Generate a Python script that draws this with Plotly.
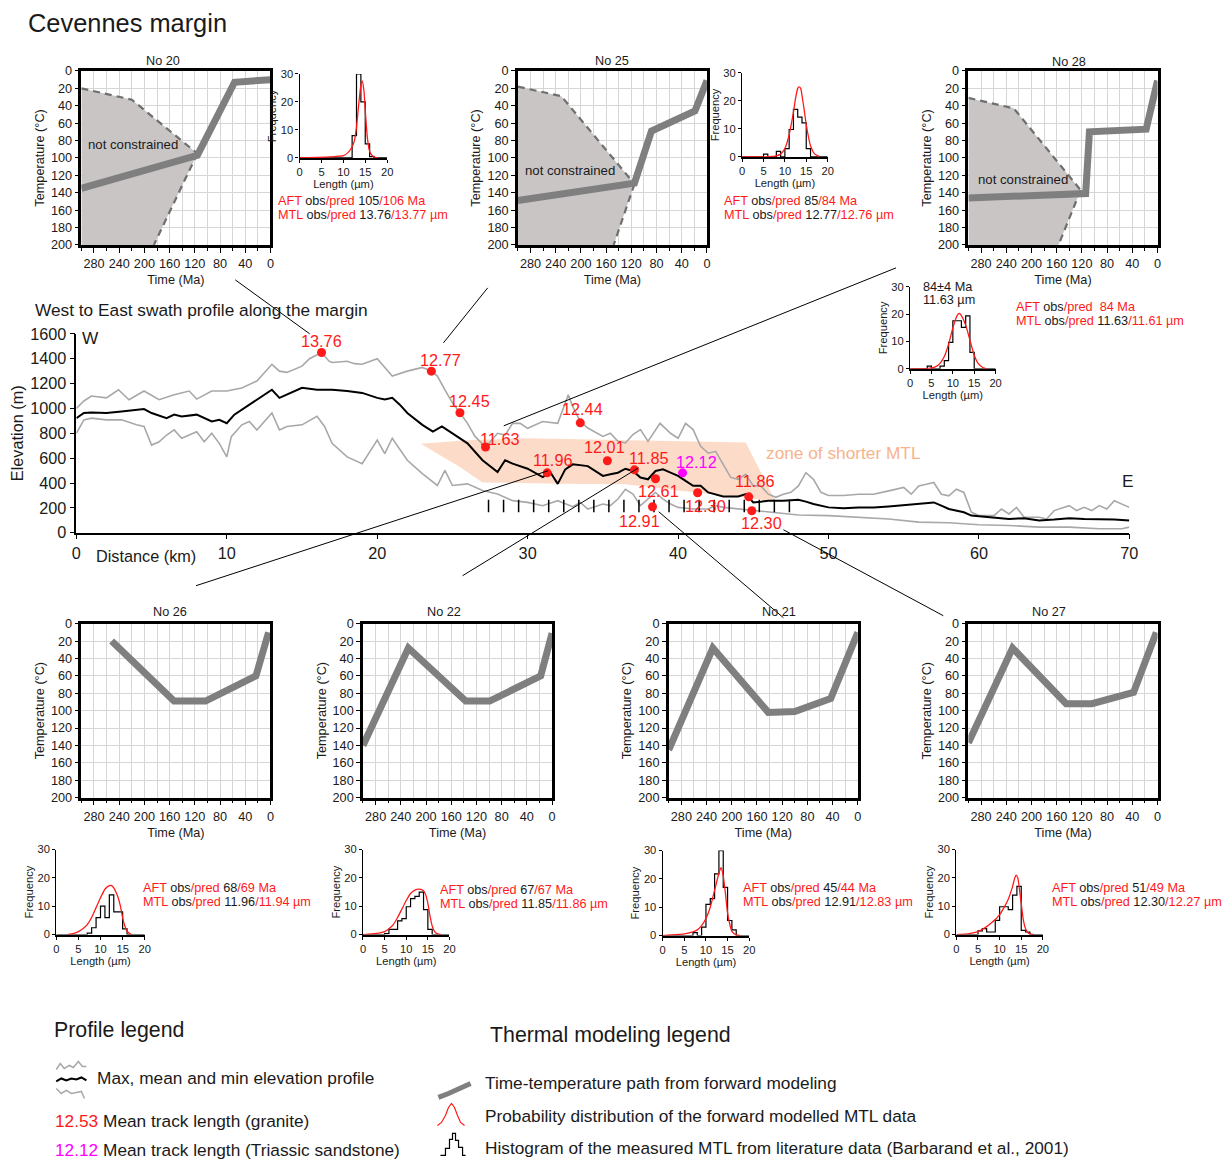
import plotly.graph_objects as go

W, H = 1231, 1161
# measured mapping between figure pixels and photographed pixels
OX, OY, SX, SY = 15.0, 16.0, 0.983, 0.985
FS = 1 / 0.984
RED = "#ff1a1a"
MAG = "#ff00ff"
GRAY = "#a8a8a8"
PATH_GRAY = "#7f7f7f"
FONT = "Liberation Sans, Arial, sans-serif"

# ---------------- data: swath profile ----------------
max_km = [0, 0.5, 1, 2, 2.8, 3.5, 4.5, 5.5, 6.5, 7.5, 8, 9, 10, 11, 12, 13, 13.5, 14, 15, 15.5, 16.3, 16.8, 17, 18,
          18.5, 19, 20, 21, 22, 23, 23.6, 24, 24.5, 25, 25.5, 26, 26.5, 27.2, 27.5, 28, 28.5, 29, 29.5, 30, 31, 32,
          32.7, 33, 33.5, 34, 35, 35.5, 36, 36.5, 37, 37.5, 38, 38.8, 39.5, 40, 40.5, 41, 41.5, 42, 42.5, 43, 43.5,
          44, 44.5, 45, 45.5, 46, 46.5, 47, 47.5, 48, 48.5, 49, 49.5, 50, 51, 52, 53, 54, 55, 55.5, 56, 56.5, 57,
          57.5, 58, 58.5, 59, 59.5, 60, 61, 61.5, 62, 62.5, 63, 64, 64.5, 65, 66, 66.5, 67, 67.5, 68, 68.5, 69,
          69.5, 70]
max_elev = [1000, 1060, 1100, 1085, 1150, 1070, 1140, 1070, 1110, 1140, 1075, 1140, 1140, 1165, 1220, 1355, 1300,
            1290, 1340, 1400, 1450, 1380, 1370, 1380, 1360, 1355, 1400, 1260, 1300, 1330, 1300, 1260, 1150, 1045,
            965, 880, 775, 690, 730, 800, 785, 880, 880, 840, 895, 880, 1110, 1015, 895, 842, 775, 800, 735, 722,
            790, 830, 735, 880, 800, 760, 880, 830, 695, 640, 655, 550, 445, 430, 470, 377, 377, 310, 285, 310,
            325, 377, 483, 430, 325, 300, 300, 310, 310, 337, 364, 310, 377, 390, 404, 310, 297, 350, 324, 165,
            138, 138, 191, 151, 204, 125, 125, 111, 178, 218, 178, 204, 178, 218, 191, 258, 231, 204]

mean_km = [0, 0.5, 1, 2, 3, 4, 4.5, 5, 6, 6.5, 7, 8, 9, 9.5, 10, 10.5, 11, 12, 13, 13.5, 14, 15, 16, 17, 18, 19,
           20, 20.5, 21, 21.5, 22, 23, 23.7, 24.3, 25, 26, 27, 28, 28.5, 29, 30, 31, 31.5, 32, 32.5, 33, 34, 35,
           35.5, 36, 36.5, 37, 37.5, 38, 38.5, 39, 39.5, 40, 40.5, 41, 41.5, 42, 43, 44, 44.5, 45, 45.5, 46, 47,
           48, 48.5, 49, 50, 51, 52, 53, 54, 55, 56, 57, 57.5, 58, 59, 59.5, 60, 61, 62, 63, 64, 65, 66, 67, 68,
           69, 70]
mean_elev = [922, 963, 968, 963, 976, 985, 995, 963, 922, 950, 936, 950, 895, 908, 881, 950, 990, 1070, 1150, 1085,
             1112, 1166, 1150, 1150, 1140, 1125, 1085, 1071, 1085, 1030, 963, 868, 814, 855, 800, 719, 583, 488,
             583, 556, 515, 448, 488, 393, 510, 550, 536, 457, 470, 483, 515, 497, 444, 430, 497, 510, 483, 457,
             417, 377, 377, 324, 292, 292, 311, 244, 250, 258, 258, 266, 250, 231, 204, 197, 204, 204, 212, 223,
             239, 244, 218, 191, 165, 138, 133, 125, 111, 117, 98, 106, 117, 111, 111, 106, 98]

min_km = [0, 0.5, 1, 2, 3, 4, 4.5, 5, 5.5, 6, 6.5, 7, 7.5, 8, 8.5, 9, 9.5, 10, 10.3, 11, 11.5, 12, 12.5, 13, 13.5,
          14, 15, 16, 16.5, 17, 18, 19, 19.5, 20, 20.5, 21, 22, 23, 24, 24.5, 25, 26, 27, 28, 29, 30, 31, 32, 33,
          33.5, 34, 35, 35.5, 36, 36.5, 37, 37.5, 38, 38.5, 39, 39.5, 40, 41, 42, 42.5, 43, 44, 45, 46, 47, 48,
          50, 52, 54, 56, 58, 60, 62, 64, 66, 68, 69.5, 70]
min_elev = [800, 908, 922, 908, 908, 868, 855, 705, 732, 786, 827, 760, 786, 813, 732, 800, 719, 610, 773, 868,
            895, 827, 895, 963, 827, 855, 868, 936, 855, 719, 610, 556, 651, 746, 637, 760, 583, 475, 380, 502,
            380, 393, 339, 312, 258, 244, 217, 258, 210, 244, 191, 231, 218, 271, 350, 311, 218, 271, 324, 271,
            231, 204, 191, 191, 218, 204, 191, 178, 165, 151, 143, 138, 125, 111, 85, 80, 64, 58, 45, 45, 32, 32,
            45]

zone_km = [22.9, 26, 30, 36, 44.5, 46.5, 44, 40, 36.5, 32, 27, 25.6]
zone_elev = [715, 745, 760, 745, 725, 250, 290, 340, 390, 395, 405, 520]

dot_labels = ["13.76", "12.77", "12.45", "11.63", "11.96", "12.44", "12.01", "11.85", "12.12", "12.61", "12.30",
              "11.86", "12.91", "12.30"]
dot_km = [16.3, 23.6, 25.5, 27.2, 31.3, 33.5, 35.3, 37.1, 40.3, 38.5, 41.3, 44.7, 38.3, 44.9]
dot_elev = [1450, 1300, 965, 690, 482, 884, 579, 506, 482, 434, 322, 289, 209, 177]
dot_rock = ["granite"] * 8 + ["sandstone"] + ["granite"] * 5
# label offsets in pixels (layout only)
dot_label_shift = [(0, 11), (9, 11), (10, 12), (14, 8), (5, 13), (2, 14), (-3, 14), (14, 12), (14, 11),
                   (3, -12), (8, -13), (6, 16), (-13, -14), (10, -12)]

site_marks_km = [27.4, 28.4, 29.4, 30.4, 31.4, 32.4, 33.4, 34.4, 35.4, 36.4, 37.4, 38.4, 39.4, 40.4, 41.4, 42.4,
                 43.4, 44.4, 45.4, 46.4, 47.4]

# ---------------- data: thermal models ----------------
samples = ["No 20", "No 25", "No 28", "No 26", "No 22", "No 21", "No 27"]
tt_time = {
    "No 20": [300, 116, 57, 0],
    "No 25": [300, 115, 88, 19, 0],
    "No 28": [300, 114, 108, 18, 0],
    "No 26": [252, 153, 103, 23, 3],
    "No 22": [300, 228, 137, 99, 18, 0],
    "No 21": [300, 230, 142, 100, 43, 0],
    "No 27": [300, 230, 145, 104, 38, 2],
}
tt_temp = {
    "No 20": [135, 97, 13, 10],
    "No 25": [149, 129, 69, 46, 11],
    "No 28": [146, 141, 70, 67, 11],
    "No 26": [20, 89, 89, 60, 10],
    "No 22": [140, 28, 89, 89, 60, 11],
    "No 21": [145, 28, 102, 101, 86, 10],
    "No 27": [137, 28, 92, 92, 79, 10],
}
unc_upper_time = {"No 20": [300, 220, 116], "No 25": [300, 231, 115], "No 28": [300, 228, 122]}
unc_upper_temp = {"No 20": [20, 33, 95], "No 25": [18, 29, 130], "No 28": [31, 43, 137]}
unc_lower_time = {"No 20": [116, 185], "No 25": [115, 148], "No 28": [122, 157]}
unc_lower_temp = {"No 20": [95, 200], "No 25": [130, 200], "No 28": [137, 200]}

length_bins = list(range(0, 21))
hist_counts = {
    "No 20": [0, 0, 0, 0, 0, 0, 0, 0, 0, 0, 0, 0, 8, 30, 20, 5, 0.5, 0, 0, 0],
    "No 25": [0, 0, 0, 0, 0, 1, 0, 0, 2, 0, 3, 9.8, 17, 14.2, 12.2, 3, 0, 0, 0, 0],
    "No 28": [0, 0, 0, 0, 1, 0, 0, 1, 3, 9.7, 17.6, 17.6, 15.2, 19.4, 6, 0, 0, 0, 0, 0],
    "No 26": [0, 0, 0, 0, 0, 0, 0, 0.5, 2.4, 6, 10, 6, 14, 8, 8, 2, 0, 0, 0, 0],
    "No 22": [0, 0, 0, 0, 0, 0.3, 1.8, 1.8, 4.8, 5.6, 9.8, 12.7, 13.5, 15, 8.8, 1.8, 0, 0, 0, 0],
    "No 21": [0, 0, 0, 0, 0, 0, 0, 1, 0, 3, 11, 13, 21.8, 30, 17, 5.3, 2, 0, 0, 0],
    "No 27": [0, 0, 0, 0, 0, 1.3, 2.1, 0.9, 0.9, 5, 9.8, 9.8, 8.8, 13.9, 17, 1.5, 0.9, 0, 0, 0],
}
pdf_len = {
    "No 20": [0, 2, 6, 8, 10, 11, 12, 12.5, 13, 13.5, 14, 14.3, 14.7, 15, 15.5, 16, 16.5, 17, 18],
    "No 25": [0, 4, 6, 8, 9, 10, 11, 12, 12.5, 13, 13.3, 13.7, 14, 14.5, 15, 16, 17, 18],
    "No 28": [0, 4, 5, 6, 7, 8, 9, 10, 11, 11.5, 12, 13, 14, 15, 16, 17, 18],
    "No 26": [2.5, 4, 5, 6, 7, 8, 9, 10, 11, 12, 12.5, 13, 14, 14.5, 15, 15.5, 16, 16.5, 17],
    "No 22": [0, 2, 4, 5, 6, 7, 8, 9, 10, 11, 12, 13, 14, 14.5, 15, 15.5, 16, 16.5, 17, 18],
    "No 21": [0, 3, 5, 7, 8, 9, 10, 11, 12, 13, 13.5, 14, 14.5, 15, 15.5, 16, 17, 18],
    "No 27": [0, 3, 5, 6, 7, 8, 9, 10, 11, 12, 13, 13.5, 13.8, 14.2, 14.5, 15, 15.5, 16, 16.5, 17, 18],
}
pdf_freq = {
    "No 20": [0, 0.1, 0.3, 0.5, 0.8, 1.8, 4, 6, 11, 19, 26, 27.5, 24, 17, 7, 2.4, 1, 0.4, 0],
    "No 25": [0, 0, 0.1, 0.4, 1, 3, 8, 16, 21, 24.5, 25, 24.5, 22, 17, 11.5, 4, 1, 0.2],
    "No 28": [0, 0.1, 0.3, 0.8, 2, 4.5, 9, 15, 19.5, 20.3, 19.5, 16, 10.5, 5, 1.8, 0.5, 0],
    "No 26": [0, 0.4, 1, 2, 3.5, 6, 9.5, 13, 16, 17.3, 17.3, 16.5, 13, 10, 6, 3, 1.2, 0.4, 0],
    "No 22": [0, 0.2, 0.6, 1, 2, 3.5, 6, 9, 12, 14.5, 15.7, 16, 15.5, 14, 11, 6.5, 3, 1.2, 0.4, 0],
    "No 21": [0, 0.3, 0.6, 1.3, 2, 3.5, 6, 10, 16, 22, 24, 21, 15, 8, 4, 1.5, 0.2, 0],
    "No 27": [0, 0.3, 1, 1.8, 2.8, 4, 5.3, 7, 9.5, 12.5, 17, 20, 21, 20, 17, 11, 5, 2, 0.7, 0.2, 0],
}
aft_obs = {"No 20": "105", "No 25": "85", "No 28": "", "No 26": "68", "No 22": "67", "No 21": "45", "No 27": "51"}
aft_pred = {"No 20": "106", "No 25": "84", "No 28": "84", "No 26": "69", "No 22": "67", "No 21": "44", "No 27": "49"}
mtl_obs = {"No 20": "13.76", "No 25": "12.77", "No 28": "11.63", "No 26": "11.96", "No 22": "11.85",
           "No 21": "12.91", "No 27": "12.30"}
mtl_pred = {"No 20": "13.77", "No 25": "12.76", "No 28": "11.61", "No 26": "11.94", "No 22": "11.86",
            "No 21": "12.83", "No 27": "12.27"}

# ---------------- layout geometry (target picture pixels) ----------------
tt_box = {"No 20": (83, 271, 70, 244), "No 25": (517, 705, 70, 244), "No 28": (965, 1153, 70, 244),
          "No 26": (83, 271, 623, 797), "No 22": (363, 551, 623, 797), "No 21": (667, 855, 623, 797),
          "No 27": (965, 1153, 623, 797)}
hist_box = {"No 20": (300, 387, 73, 157), "No 25": (740, 825, 72, 156), "No 28": (907, 992, 286, 368),
            "No 26": (58, 146, 849, 934), "No 22": (363, 449, 849, 934), "No 21": (661, 747, 850, 935),
            "No 27": (953, 1039, 849, 934)}
title_pos = {"No 20": (164, 60), "No 25": (611, 60), "No 28": (1065, 61), "No 26": (171, 611),
             "No 22": (444, 611), "No 21": (777, 611), "No 27": (1045, 611)}
txt_pos = {"No 20": (277, 200), "No 25": (720, 200), "No 28": (1010, 306), "No 26": (142, 887),
           "No 22": (438, 889), "No 21": (739, 887), "No 27": (1046, 887)}
nc_pos = {"No 20": (293, 84), "No 25": (292, 115), "No 28": (288, 125)}


def px(x):
    return (x - OX) / SX / W


def py(y):
    return 1 - (y - OY) / SY / H


def f(size):
    return size * FS


fig = go.Figure()
layout = dict(width=W, height=H, margin=dict(l=0, r=0, t=0, b=0), paper_bgcolor="white",
              plot_bgcolor="rgba(0,0,0,0)", showlegend=False, hovermode=False,
              font=dict(family=FONT, color="#1a1a1a"))
annotations = []
shapes = []


def axnames(n):
    return ("xaxis" if n == 1 else f"xaxis{n}", "yaxis" if n == 1 else f"yaxis{n}",
            "x" if n == 1 else f"x{n}", "y" if n == 1 else f"y{n}")


def ann(x, y, text, size=13, color="#1a1a1a", xanchor="left", yanchor="middle", **kw):
    annotations.append(dict(x=px(x), y=py(y), xref="paper", yref="paper", text=text, showarrow=False,
                            xanchor=xanchor, yanchor=yanchor, font=dict(size=f(size), color=color, family=FONT),
                            **kw))


# ---------------- profile (axis 1) ----------------
xa, ya, xr, yr = axnames(1)
layout[xa] = dict(domain=[px(78), px(1125)], range=[0, 70], anchor=yr, showline=True, linecolor="black",
                  linewidth=1.5, ticks="outside", ticklen=5, tickcolor="black", dtick=10, showgrid=False,
                  zeroline=False, tickfont=dict(size=f(16), color="#1a1a1a"))
layout[ya] = dict(domain=[py(532), py(333)], range=[0, 1600], anchor=xr, showline=True, linecolor="black",
                  linewidth=1.5, ticks="outside", ticklen=5, tickcolor="black", dtick=200, showgrid=False,
                  zeroline=False, tickfont=dict(size=f(16), color="#1a1a1a"),
                  title=dict(text="Elevation (m)", font=dict(size=f(16)), standoff=6))

fig.add_trace(go.Scatter(x=zone_km, y=zone_elev, fill="toself", fillcolor="rgba(250,200,172,0.65)",
                         line=dict(width=0), mode="lines", xaxis=xr, yaxis=yr))
fig.add_trace(go.Scatter(x=max_km, y=max_elev, mode="lines", line=dict(color=GRAY, width=1.6), xaxis=xr, yaxis=yr))
fig.add_trace(go.Scatter(x=min_km, y=min_elev, mode="lines", line=dict(color=GRAY, width=1.6), xaxis=xr, yaxis=yr))
fig.add_trace(go.Scatter(x=mean_km, y=mean_elev, mode="lines", line=dict(color="black", width=2), xaxis=xr,
                         yaxis=yr))
fig.add_trace(go.Scatter(x=site_marks_km, y=[215] * len(site_marks_km), mode="markers",
                         marker=dict(symbol="line-ns", size=9, line=dict(width=1.5, color="black")),
                         xaxis=xr, yaxis=yr))
dot_colors = [RED if r == "granite" else MAG for r in dot_rock]
fig.add_trace(go.Scatter(x=dot_km, y=dot_elev, mode="markers", marker=dict(color=dot_colors, size=9),
                         xaxis=xr, yaxis=yr, cliponaxis=False))
for lab, xk, ye, (dx, dy), col in zip(dot_labels, dot_km, dot_elev, dot_label_shift, dot_colors):
    annotations.append(dict(x=xk, y=ye, xref=xr, yref=yr, text=lab, showarrow=False, xshift=dx, yshift=dy,
                            font=dict(size=f(16), color=col, family=FONT), xanchor="center", yanchor="middle"))
annotations.append(dict(x=51, y=643, xref=xr, yref=yr, text="zone of shorter MTL", showarrow=False,
                        font=dict(size=f(17), color="#f7b38c", family=FONT), xanchor="center", yanchor="middle"))
ann(82, 337, "W", size=17)
ann(1116, 480, "E", size=17)
ann(96, 555, "Distance (km)", size=16)
ann(35, 309, "West to East swath profile along the margin", size=17)
ann(28, 22, "Cevennes margin", size=25)

# ---------------- thermal panels ----------------
n = 2
for s in samples:
    x0, x1, y0, y1 = tt_box[s]
    xa, ya, xr, yr = axnames(n)
    layout[xa] = dict(domain=[px(x0), px(x1)], range=[300, 0], anchor=yr, showline=True, mirror=True,
                      linecolor="black", linewidth=2.5, ticks="outside", ticklen=5, tickcolor="black",
                      tick0=0, dtick=40, showgrid=True, gridcolor="#d6d6d6", gridwidth=1, zeroline=False,
                      minor=dict(dtick=20, showgrid=True, gridcolor="#d6d6d6", ticks="outside", ticklen=3,
                                 tickcolor="black"),
                      tickangle=0, tickfont=dict(size=f(12.5)),
                      title=dict(text="Time (Ma)", font=dict(size=f(12.5)), standoff=6))
    layout[ya] = dict(domain=[py(y1), py(y0)], range=[200, 0], anchor=xr, showline=True, mirror=True,
                      linecolor="black", linewidth=2.5, ticks="outside", ticklen=4, tickcolor="black",
                      dtick=20, showgrid=True, gridcolor="#d6d6d6", gridwidth=1, zeroline=False,
                      tickfont=dict(size=f(12.5)), title=dict(text="Temperature (°C)", font=dict(size=f(12.5)),
                                                              standoff=4))
    if s in unc_upper_time:
        ft = unc_upper_time[s] + unc_lower_time[s][1:] + [300]
        fT = unc_upper_temp[s] + unc_lower_temp[s][1:] + [200]
        fig.add_trace(go.Scatter(x=ft, y=fT, fill="toself", fillcolor="#c9c5c5", mode="lines",
                                 line=dict(width=0), xaxis=xr, yaxis=yr))
        fig.add_trace(go.Scatter(x=unc_upper_time[s], y=unc_upper_temp[s], mode="lines",
                                 line=dict(color="#6f6f6f", width=2.2, dash="7px,5px"), xaxis=xr, yaxis=yr))
        fig.add_trace(go.Scatter(x=unc_lower_time[s], y=unc_lower_temp[s], mode="lines",
                                 line=dict(color="#6f6f6f", width=2.2, dash="7px,5px"), xaxis=xr, yaxis=yr))
        nt, nT = nc_pos[s]
        annotations.append(dict(x=nt, y=nT, xref=xr, yref=yr, text="not constrained", showarrow=False,
                                xanchor="left", yanchor="middle",
                                font=dict(size=f(13), color="#1a1a1a", family=FONT)))
    fig.add_trace(go.Scatter(x=tt_time[s], y=tt_temp[s], mode="lines", line=dict(color=PATH_GRAY, width=7),
                             xaxis=xr, yaxis=yr, cliponaxis=False))
    tx, ty = title_pos[s]
    ann(tx, ty, s, size=12.5, xanchor="center")
    n += 1

# ---------------- histograms ----------------
for s in samples:
    x0, x1, y0, y1 = hist_box[s]
    xa, ya, xr, yr = axnames(n)
    layout[xa] = dict(domain=[px(x0), px(x1)], range=[0, 20], anchor=yr, showline=True, linecolor="black",
                      linewidth=2, ticks="outside", ticklen=3, tickcolor="black", tickvals=[0, 5, 10, 15, 20],
                      showgrid=False, zeroline=False, tickangle=0, tickfont=dict(size=f(11)),
                      title=dict(text="Length (µm)", font=dict(size=f(11)), standoff=2))
    layout[ya] = dict(domain=[py(y1), py(y0)], range=[0, 30], anchor=xr, showline=True, linecolor="black",
                      linewidth=1.3, ticks="outside", ticklen=3, tickcolor="black", tickvals=[0, 10, 20, 30],
                      showgrid=False, zeroline=False, tickfont=dict(size=f(11)),
                      title=dict(text="Frequency", font=dict(size=f(11)), standoff=1))
    cnt = hist_counts[s]
    fig.add_trace(go.Scatter(x=length_bins, y=cnt + [cnt[-1]], mode="lines",
                             line=dict(color="black", width=1.2, shape="hv"), xaxis=xr, yaxis=yr))
    fig.add_trace(go.Scatter(x=pdf_len[s], y=pdf_freq[s], mode="lines",
                             line=dict(color=RED, width=1.3, shape="spline", smoothing=0.6),
                             xaxis=xr, yaxis=yr))
    lx, ly = txt_pos[s]
    if aft_obs[s]:
        aft = (f"<span style='color:{RED}'>AFT</span> obs<span style='color:{RED}'>/pred</span> {aft_obs[s]}"
               f"<span style='color:{RED}'>/{aft_pred[s]} Ma</span>")
    else:
        aft = (f"<span style='color:{RED}'>AFT</span> obs<span style='color:{RED}'>/pred</span>"
               f"<span style='color:{RED}'>  {aft_pred[s]} Ma</span>")
    mtl = (f"<span style='color:{RED}'>MTL</span> obs<span style='color:{RED}'>/pred</span> {mtl_obs[s]}"
           f"<span style='color:{RED}'>/{mtl_pred[s]} µm</span>")
    ann(lx, ly, aft, size=12.5)
    ann(lx, ly + 14, mtl, size=12.5)
    n += 1

ann(918, 286, "84±4 Ma", size=12.5)
ann(918, 299, "11.63 µm", size=12.5)

# ---------------- connector lines ----------------
connectors = [((236, 279), (310, 333)), ((487, 287), (443, 342)), ((893, 267), (503, 425)),
              ((547, 470), (197, 585)), ((637, 467), (462, 575)), ((657, 511), (781, 617)),
              ((781, 529), (940, 615))]
for (a, b) in connectors:
    shapes.append(dict(type="line", xref="paper", yref="paper", x0=px(a[0]), y0=py(a[1]), x1=px(b[0]),
                       y1=py(b[1]), line=dict(color="black", width=1)))


def path(pts):
    return "M " + " L ".join(f"{px(x):.5f},{py(y):.5f}" for x, y in pts)


# ---------------- legends ----------------
ann(54, 1030, "Profile legend", size=21)
shapes.append(dict(type="path", xref="paper", yref="paper", line=dict(color=GRAY, width=1.5),
                   path=path([(58, 1069), (62, 1063), (66, 1068), (71, 1065), (75, 1067), (80, 1061), (84, 1066),
                              (88, 1066)])))
shapes.append(dict(type="path", xref="paper", yref="paper", line=dict(color="black", width=2),
                   path=path([(58, 1081), (63, 1078), (68, 1080), (73, 1078), (78, 1079), (83, 1077), (88, 1080)])))
shapes.append(dict(type="path", xref="paper", yref="paper", line=dict(color=GRAY, width=1.5),
                   path=path([(58, 1088), (63, 1093), (68, 1090), (73, 1093), (78, 1092), (83, 1091), (86, 1098)])))
ann(97, 1078, "Max, mean and min elevation profile", size=17)
ann(55, 1121, f"<span style='color:{RED}'>12.53</span> Mean track length (granite)", size=17)
ann(55, 1150, f"<span style='color:{MAG}'>12.12</span> Mean track length (Triassic sandstone)", size=17)

ann(487, 1035, "Thermal modeling legend", size=21)
shapes.append(dict(type="path", xref="paper", yref="paper", line=dict(color=PATH_GRAY, width=5),
                   path=path([(438, 1097), (448, 1093), (470, 1083)])))
shapes.append(dict(type="path", xref="paper", yref="paper", line=dict(color=RED, width=1.2),
                   path=path([(437, 1125), (441, 1122), (445, 1115), (448, 1107), (451, 1103), (454, 1107),
                              (457, 1115), (460, 1122), (464, 1125)])))
shapes.append(dict(type="path", xref="paper", yref="paper", line=dict(color="black", width=1.2),
                   path=path([(440, 1155), (445, 1155), (445, 1148), (449, 1148), (449, 1139), (452, 1139),
                              (452, 1133), (455, 1133), (455, 1140), (458, 1140), (458, 1147), (462, 1147),
                              (462, 1155), (465, 1155)])))
ann(482, 1083, "Time-temperature path from forward modeling", size=17)
ann(482, 1116, "Probability distribution of the forward modelled MTL data", size=17)
ann(482, 1148, "Histogram of the measured MTL from literature data (Barbarand et al., 2001)", size=17)

layout["annotations"] = annotations
layout["shapes"] = shapes
fig.update_layout(**layout)
fig.write_html("out.html")
